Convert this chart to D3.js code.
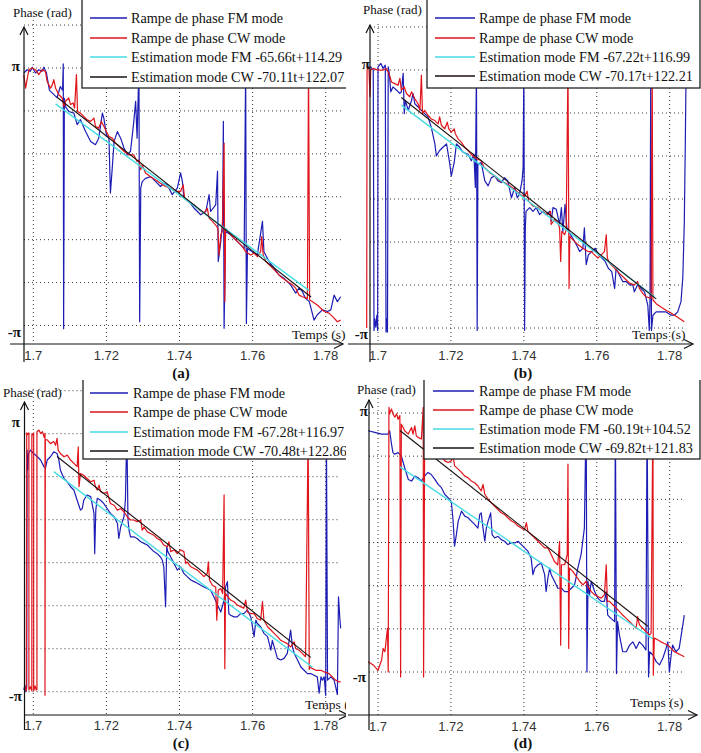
<!DOCTYPE html>
<html><head><meta charset="utf-8">
<script src="https://cdn.jsdelivr.net/npm/d3@7"></script>
<style>body{margin:0;background:#fff}svg{display:block}</style>
</head><body><svg id="chart" width="701" height="753"></svg>
<script>
// ---------------- DATA ----------------
const xTicks = [1.70, 1.72, 1.74, 1.76, 1.78];
const xTickLabels = ["1.7", "1.72", "1.74", "1.76", "1.78"];
const yTickValues = [Math.PI, -Math.PI];
const yTickLabels = ["π", "-π"];
const panelNames = ["(a)", "(b)", "(c)", "(d)"];
const seriesNames = ["Rampe de phase FM mode", "Rampe de phase CW mode"];
const estFM = [[-65.66, 114.29], [-67.22, 116.99], [-67.28, 116.97], [-60.19, 104.52]];
const estCW = [[-70.11, 122.07], [-70.17, 122.21], [-70.48, 122.86], [-69.82, 121.83]];
const estFMRange = [[1.7061, 1.7755], [1.7064, 1.7758], [1.7056, 1.7764], [1.7060, 1.7753]];
const estCWRange = [[1.7065, 1.7760], [1.7064, 1.7763], [1.7065, 1.7759], [1.7060, 1.7740]];

// (a)
const fmA = [[1.6974,3.02],[1.6983,3.10],[1.6992,3.06],[1.6997,3.16],[1.7006,3.02],[1.7015,3.10],[1.7024,3.06],[1.7029,3.16],[1.7036,3.02],[1.7044,2.60],[1.7052,2.53],[1.7065,2.42],[1.7074,2.69],[1.7080,2.60],[1.7082,3.24],[1.7083,-3.22],[1.7085,2.40],[1.7088,2.20],[1.7097,2.08],[1.7111,2.04],[1.7120,1.76],[1.7129,1.88],[1.7143,1.59],[1.7157,1.35],[1.7170,1.27],[1.7179,1.43],[1.7189,2.04],[1.7193,1.92],[1.7200,1.51],[1.7207,1.43],[1.7211,0.09],[1.7216,0.70],[1.7221,1.35],[1.7230,1.59],[1.7239,1.43],[1.7248,1.19],[1.7257,1.02],[1.7266,1.11],[1.7275,1.84],[1.7280,2.33],[1.7284,1.43],[1.7289,3.2],[1.7291,-3.05],[1.7294,0.21],[1.7298,0.37],[1.7307,0.45],[1.7321,0.49],[1.7335,0.37],[1.7348,0.25],[1.7357,0.33],[1.7367,0.29],[1.7380,0.05],[1.7394,0.21],[1.7403,0.58],[1.7408,0.37],[1.7412,-0.03],[1.7426,-0.12],[1.7440,-0.28],[1.7458,-0.44],[1.7472,-0.36],[1.7481,0.05],[1.7485,-0.36],[1.7499,-0.20],[1.7504,0.62],[1.7506,-1.58],[1.7513,-1.09],[1.7518,-0.60],[1.7520,1.84],[1.7522,-3.21],[1.7526,-0.85],[1.7540,-0.93],[1.7558,-1.09],[1.7577,-1.26],[1.7581,3.2],[1.7583,-3.09],[1.7586,-1.26],[1.7599,-1.34],[1.7613,-1.42],[1.7627,-0.60],[1.7631,-1.34],[1.7645,-1.58],[1.7659,-1.74],[1.7672,-1.91],[1.7686,-1.99],[1.7704,-2.15],[1.7718,-2.35],[1.7727,-2.23],[1.7736,-2.31],[1.7745,-2.48],[1.7755,-2.56],[1.7761,-2.76],[1.7768,-3.01],[1.7777,-2.88],[1.7791,-2.76],[1.7805,-2.80],[1.7814,-2.76],[1.7823,-2.40],[1.7832,-2.56],[1.7841,-2.44]];
const cwA = [[1.6974,2.98],[1.6979,2.65],[1.6983,2.86],[1.6988,3.10],[1.6997,3.14],[1.7006,3.10],[1.7015,2.98],[1.7024,3.10],[1.7033,3.06],[1.7038,2.81],[1.7047,2.65],[1.7052,2.73],[1.7056,2.86],[1.7061,2.65],[1.7070,2.49],[1.7079,2.41],[1.7084,2.20],[1.7088,2.33],[1.7097,2.41],[1.7102,2.25],[1.7109,2.29],[1.7113,2.16],[1.7118,2.98],[1.7121,2.08],[1.7129,2.04],[1.7138,1.96],[1.7147,1.88],[1.7157,1.84],[1.7166,1.92],[1.7170,1.72],[1.7179,1.67],[1.7186,1.84],[1.7193,1.72],[1.7200,1.59],[1.7207,1.47],[1.7216,1.43],[1.7225,1.31],[1.7234,1.23],[1.7248,1.11],[1.7262,1.02],[1.7275,1.02],[1.7284,0.86],[1.7289,0.90],[1.7294,0.66],[1.7298,0.78],[1.7307,0.58],[1.7321,0.49],[1.7335,0.41],[1.7348,0.33],[1.7362,0.25],[1.7376,0.21],[1.7389,0.13],[1.7403,0.13],[1.7410,0.29],[1.7414,-0.03],[1.7426,-0.12],[1.7440,-0.20],[1.7453,-0.32],[1.7467,-0.40],[1.7476,-0.28],[1.7481,-0.52],[1.7490,-0.60],[1.7499,-0.69],[1.7505,-0.77],[1.7508,-1.42],[1.7513,-0.93],[1.7517,-0.85],[1.7522,1.31],[1.7524,-2.56],[1.7526,-0.77],[1.7533,-0.85],[1.7545,-0.97],[1.7558,-1.09],[1.7572,-1.21],[1.7581,-1.34],[1.7595,-1.42],[1.7604,-1.38],[1.7613,-1.46],[1.7622,-1.34],[1.7625,-0.97],[1.7629,-1.42],[1.7636,-1.58],[1.7650,-1.70],[1.7663,-1.82],[1.7677,-1.95],[1.7695,-2.07],[1.7709,-2.15],[1.7718,-2.23],[1.7727,-2.40],[1.7736,-2.44],[1.7750,-2.48],[1.7753,3.3],[1.7756,-2.52],[1.7764,-2.56],[1.7777,-2.64],[1.7796,-2.80],[1.7809,-2.84],[1.7823,-2.96],[1.7832,-3.05],[1.7841,-3.01]];

// (b)
const fmB = [[1.6973,3.18],[1.6980,3.22],[1.6987,3.14],[1.6989,-3.20],[1.6991,-2.91],[1.6994,-3.12],[1.6997,-2.83],[1.6999,-3.20],[1.7000,3.22],[1.7008,3.30],[1.7014,3.18],[1.7020,3.26],[1.7022,-3.24],[1.7024,-2.91],[1.7026,-3.24],[1.7028,3.22],[1.7031,3.06],[1.7035,2.61],[1.7041,2.73],[1.7051,2.65],[1.7060,2.57],[1.7064,2.61],[1.7069,3.06],[1.7072,2.08],[1.7075,2.40],[1.7083,2.16],[1.7092,2.40],[1.7096,2.57],[1.7101,2.32],[1.7110,2.24],[1.7119,2.16],[1.7128,2.08],[1.7137,2.00],[1.7146,1.75],[1.7156,1.34],[1.7160,1.05],[1.7169,1.18],[1.7178,1.26],[1.7188,1.34],[1.7197,0.85],[1.7201,0.56],[1.7209,0.89],[1.7215,1.34],[1.7224,1.26],[1.7233,1.14],[1.7247,1.09],[1.7256,0.93],[1.7263,1.09],[1.7267,0.28],[1.7270,3.2],[1.7272,-3.20],[1.7274,0.85],[1.7283,0.89],[1.7293,0.44],[1.7302,0.32],[1.7311,0.52],[1.7320,0.56],[1.7329,0.44],[1.7338,0.40],[1.7347,0.52],[1.7356,0.44],[1.7366,0.03],[1.7375,0.28],[1.7382,0.03],[1.7388,0.11],[1.7395,0.44],[1.7398,0.77],[1.7400,3.2],[1.7402,-3.20],[1.7404,-0.70],[1.7406,-0.30],[1.7416,-0.21],[1.7425,-0.30],[1.7434,-0.21],[1.7443,-0.38],[1.7452,-0.30],[1.7461,-0.38],[1.7471,-0.30],[1.7475,-0.54],[1.7480,-0.21],[1.7489,-0.25],[1.7498,-0.62],[1.7503,-0.21],[1.7507,-0.79],[1.7513,-0.13],[1.7518,-0.70],[1.7525,-0.83],[1.7534,-0.95],[1.7544,-1.11],[1.7553,-1.28],[1.7562,-1.20],[1.7566,-0.70],[1.7571,-1.60],[1.7577,-1.36],[1.7586,-1.28],[1.7596,-1.20],[1.7605,-1.36],[1.7614,-1.44],[1.7623,-1.52],[1.7632,-1.69],[1.7641,-1.77],[1.7649,-2.18],[1.7653,-1.69],[1.7662,-1.85],[1.7671,-2.01],[1.7681,-2.01],[1.7690,-2.09],[1.7699,-2.09],[1.7703,-2.26],[1.7712,-2.09],[1.7722,-2.18],[1.7731,-2.26],[1.7740,-2.59],[1.7744,-3.20],[1.7746,-2.50],[1.7748,3.2],[1.7750,-3.20],[1.7754,-2.83],[1.7763,-2.75],[1.7776,-2.75],[1.7790,-2.75],[1.7804,-2.83],[1.7813,-2.83],[1.7822,-2.75],[1.7831,-2.50],[1.7836,-1.90],[1.7840,-0.60],[1.7843,1.50],[1.7845,3.2]];
const cwB = [[1.6969,-3.14],[1.6970,3.14],[1.6975,3.22],[1.6978,2.49],[1.6980,3.14],[1.6987,3.18],[1.7000,3.14],[1.7014,3.14],[1.7023,3.18],[1.7030,3.06],[1.7037,2.85],[1.7046,2.81],[1.7055,2.77],[1.7060,2.94],[1.7064,2.65],[1.7072,2.73],[1.7078,2.57],[1.7087,2.49],[1.7092,2.61],[1.7101,2.44],[1.7110,2.32],[1.7115,2.16],[1.7119,3.02],[1.7122,2.08],[1.7128,2.16],[1.7137,2.04],[1.7146,1.95],[1.7156,1.91],[1.7165,1.83],[1.7169,2.00],[1.7174,1.79],[1.7183,1.71],[1.7190,1.87],[1.7194,1.71],[1.7201,1.63],[1.7209,1.71],[1.7212,1.59],[1.7220,1.46],[1.7229,1.38],[1.7238,1.26],[1.7247,1.18],[1.7256,1.09],[1.7265,1.01],[1.7274,0.97],[1.7283,0.93],[1.7291,0.77],[1.7297,0.73],[1.7306,0.64],[1.7320,0.56],[1.7334,0.44],[1.7347,0.40],[1.7361,0.32],[1.7375,0.24],[1.7388,0.11],[1.7402,0.07],[1.7409,0.19],[1.7413,-0.05],[1.7425,-0.17],[1.7439,-0.21],[1.7448,-0.30],[1.7457,-0.34],[1.7466,-0.38],[1.7473,-0.30],[1.7475,-0.62],[1.7484,-0.50],[1.7493,-0.58],[1.7498,-0.70],[1.7501,-1.52],[1.7504,-0.79],[1.7512,-0.87],[1.7516,-0.75],[1.7521,3.2],[1.7524,-2.18],[1.7526,-0.91],[1.7534,-0.99],[1.7548,-1.11],[1.7562,-1.20],[1.7576,-1.28],[1.7585,-1.28],[1.7594,-1.36],[1.7603,-1.44],[1.7612,-1.36],[1.7621,-1.28],[1.7626,-0.87],[1.7629,-1.44],[1.7635,-1.56],[1.7649,-1.69],[1.7662,-1.81],[1.7676,-1.93],[1.7690,-2.05],[1.7703,-2.09],[1.7712,-2.01],[1.7717,-2.18],[1.7726,-2.30],[1.7735,-2.38],[1.7749,-2.42],[1.7752,3.2],[1.7754,-2.46],[1.7763,-2.55],[1.7776,-2.63],[1.7790,-2.71],[1.7799,-2.75],[1.7813,-2.83],[1.7827,-2.91],[1.7840,-2.99]];

// (c)
const fmC = [[1.6974,-3.10],[1.6977,-2.98],[1.6980,-3.14],[1.6982,-3.05],[1.6983,2.74],[1.6985,2.26],[1.6987,2.66],[1.6992,2.74],[1.7001,2.66],[1.7011,2.58],[1.7020,2.50],[1.7029,2.34],[1.7033,2.30],[1.7038,2.50],[1.7047,2.58],[1.7056,2.70],[1.7065,2.66],[1.7070,2.50],[1.7074,2.26],[1.7084,2.05],[1.7093,1.97],[1.7102,1.85],[1.7111,1.77],[1.7120,1.52],[1.7129,1.28],[1.7134,1.32],[1.7138,1.52],[1.7147,1.65],[1.7157,1.61],[1.7166,1.20],[1.7168,0.22],[1.7171,1.28],[1.7175,1.57],[1.7184,1.52],[1.7193,1.44],[1.7202,1.32],[1.7211,1.20],[1.7221,1.12],[1.7230,0.96],[1.7234,0.59],[1.7239,0.87],[1.7248,1.12],[1.7252,1.52],[1.7256,3.2],[1.7259,1.04],[1.7262,0.79],[1.7266,0.63],[1.7275,0.63],[1.7284,0.59],[1.7294,0.51],[1.7303,0.47],[1.7312,0.43],[1.7321,0.35],[1.7330,0.27],[1.7339,0.22],[1.7348,0.14],[1.7353,0.06],[1.7357,-0.10],[1.7362,-1.07],[1.7365,0.39],[1.7368,0.27],[1.7376,0.14],[1.7385,-0.02],[1.7394,-0.18],[1.7403,-0.10],[1.7412,-0.26],[1.7421,-0.34],[1.7431,-0.42],[1.7440,-0.46],[1.7449,-0.50],[1.7458,-0.55],[1.7467,-0.59],[1.7476,-0.63],[1.7485,-0.67],[1.7494,-0.83],[1.7504,-1.03],[1.7513,-1.20],[1.7522,-0.91],[1.7526,-0.59],[1.7531,-0.46],[1.7535,-1.24],[1.7540,-1.28],[1.7549,-1.32],[1.7558,-1.32],[1.7567,-1.24],[1.7576,-1.24],[1.7586,-1.15],[1.7595,-1.32],[1.7604,-1.80],[1.7609,-1.40],[1.7613,-1.48],[1.7622,-1.56],[1.7631,-1.72],[1.7641,-1.80],[1.7650,-2.13],[1.7654,-1.89],[1.7659,-2.05],[1.7668,-2.33],[1.7677,-2.37],[1.7686,-2.33],[1.7695,-2.21],[1.7704,-1.64],[1.7709,-2.05],[1.7714,-2.21],[1.7723,-2.37],[1.7732,-2.54],[1.7741,-2.62],[1.7750,-2.70],[1.7759,-2.70],[1.7768,-2.74],[1.7777,-2.78],[1.7782,-3.18],[1.7787,-2.78],[1.7791,-2.86],[1.7796,-2.78],[1.7800,-3.23],[1.7802,3.2],[1.7805,-2.86],[1.7814,-2.78],[1.7823,-2.86],[1.7832,-3.21],[1.7835,-0.83],[1.7839,-1.40],[1.7841,-1.60]];
const cwC = [[1.6976,-3.02],[1.6981,-3.12],[1.6982,3.16],[1.6985,3.12],[1.6988,3.16],[1.6988,-3.10],[1.6992,-3.02],[1.6996,-3.12],[1.6996,3.14],[1.7000,3.10],[1.7001,3.16],[1.7001,-3.12],[1.7005,-3.00],[1.7008,-3.10],[1.7010,-3.08],[1.7010,3.19],[1.7015,3.23],[1.7020,3.15],[1.7025,3.19],[1.7030,3.05],[1.7032,3.15],[1.7032,-3.23],[1.7033,3.00],[1.7038,2.99],[1.7047,2.90],[1.7056,2.95],[1.7061,2.86],[1.7065,3.03],[1.7068,2.74],[1.7074,2.66],[1.7084,2.58],[1.7093,2.62],[1.7102,2.50],[1.7111,2.42],[1.7120,2.34],[1.7123,2.82],[1.7125,1.85],[1.7129,2.17],[1.7138,2.13],[1.7147,2.05],[1.7157,1.97],[1.7166,2.01],[1.7170,1.85],[1.7175,1.77],[1.7180,1.89],[1.7184,1.73],[1.7193,1.69],[1.7202,1.73],[1.7207,1.57],[1.7211,1.44],[1.7221,1.40],[1.7230,1.28],[1.7239,1.32],[1.7248,1.24],[1.7257,1.12],[1.7266,1.04],[1.7275,1.04],[1.7284,1.00],[1.7294,1.04],[1.7298,0.79],[1.7303,0.87],[1.7312,0.75],[1.7321,0.71],[1.7330,0.67],[1.7339,0.59],[1.7348,0.55],[1.7357,0.43],[1.7367,0.39],[1.7371,0.51],[1.7376,0.27],[1.7385,0.31],[1.7394,0.22],[1.7403,0.31],[1.7412,0.27],[1.7417,-0.02],[1.7421,0.02],[1.7431,-0.10],[1.7440,-0.14],[1.7449,-0.18],[1.7458,-0.26],[1.7467,-0.34],[1.7476,-0.26],[1.7479,0.02],[1.7482,-0.42],[1.7490,-0.55],[1.7499,-0.59],[1.7502,-1.40],[1.7506,-0.67],[1.7513,-0.63],[1.7518,-0.75],[1.7522,1.65],[1.7524,-2.58],[1.7526,-0.75],[1.7533,-0.83],[1.7540,-0.91],[1.7549,-0.95],[1.7558,-1.03],[1.7567,-1.07],[1.7576,-1.11],[1.7581,-0.91],[1.7586,-1.20],[1.7595,-1.24],[1.7604,-1.24],[1.7613,-1.36],[1.7622,-1.40],[1.7627,-0.95],[1.7631,-1.40],[1.7641,-1.56],[1.7650,-1.64],[1.7659,-1.72],[1.7668,-1.80],[1.7677,-1.89],[1.7686,-1.93],[1.7695,-1.97],[1.7704,-2.05],[1.7714,-1.93],[1.7718,-2.09],[1.7727,-2.13],[1.7736,-2.21],[1.7745,-2.29],[1.7752,3.2],[1.7755,-2.60],[1.7757,-2.54],[1.7764,-2.58],[1.7773,-2.62],[1.7787,-2.62],[1.7796,-2.66],[1.7809,-2.70],[1.7818,-2.78],[1.7827,-2.86],[1.7836,-2.90],[1.7841,-2.90]];

// (d)
const fmD = [[1.6973,2.71],[1.6991,2.67],[1.7010,2.63],[1.7028,2.63],[1.7032,2.71],[1.7037,2.39],[1.7041,2.18],[1.7046,2.14],[1.7055,2.18],[1.7064,2.10],[1.7073,1.82],[1.7083,1.53],[1.7092,1.49],[1.7101,1.61],[1.7110,1.57],[1.7119,1.49],[1.7128,1.61],[1.7137,1.70],[1.7146,1.65],[1.7156,1.53],[1.7165,1.41],[1.7174,1.33],[1.7183,1.17],[1.7192,1.09],[1.7201,1.00],[1.7206,0.52],[1.7210,-0.09],[1.7215,0.19],[1.7220,0.52],[1.7229,0.76],[1.7238,0.64],[1.7247,0.60],[1.7256,0.52],[1.7265,0.44],[1.7274,0.35],[1.7279,0.68],[1.7283,0.72],[1.7288,0.35],[1.7293,0.03],[1.7297,0.35],[1.7302,0.52],[1.7309,0.72],[1.7313,0.19],[1.7320,0.11],[1.7329,0.15],[1.7338,0.07],[1.7347,0.03],[1.7356,-0.05],[1.7366,-0.01],[1.7375,-0.01],[1.7384,0.03],[1.7393,-0.05],[1.7402,-0.13],[1.7411,-0.21],[1.7420,-0.38],[1.7425,-0.78],[1.7430,-0.62],[1.7439,-0.54],[1.7448,-0.50],[1.7457,-0.78],[1.7461,-1.19],[1.7466,-0.86],[1.7471,-0.62],[1.7475,-0.78],[1.7484,-0.94],[1.7493,-1.11],[1.7503,-1.11],[1.7512,-1.19],[1.7521,-1.19],[1.7530,-1.11],[1.7539,-1.03],[1.7544,-0.82],[1.7548,-0.62],[1.7557,-0.29],[1.7566,0.35],[1.7571,3.2],[1.7573,-3.14],[1.7576,-0.94],[1.7580,-1.27],[1.7585,-0.94],[1.7594,-1.19],[1.7603,-1.35],[1.7612,-1.43],[1.7621,-1.43],[1.7626,-1.19],[1.7630,-1.76],[1.7639,-1.84],[1.7649,-1.92],[1.7651,3.2],[1.7654,-3.18],[1.7657,-1.92],[1.7662,-2.24],[1.7671,-2.65],[1.7681,-2.65],[1.7690,-2.49],[1.7699,-2.41],[1.7708,-2.57],[1.7717,-2.41],[1.7726,-2.49],[1.7735,-2.61],[1.7738,3.2],[1.7742,-3.26],[1.7745,-2.65],[1.7754,-2.73],[1.7763,-2.89],[1.7772,-2.97],[1.7781,-2.81],[1.7790,-2.57],[1.7795,-2.41],[1.7799,-3.14],[1.7804,-2.73],[1.7808,-2.49],[1.7817,-2.65],[1.7826,-2.57],[1.7836,-2.00],[1.7840,-1.76]];
const cwD = [[1.6973,-2.89],[1.6987,-2.97],[1.7000,-3.10],[1.7010,-2.85],[1.7014,-2.57],[1.7019,-2.65],[1.7023,-2.32],[1.7026,-2.08],[1.7028,-3.14],[1.7030,3.28],[1.7032,3.12],[1.7037,3.24],[1.7041,3.12],[1.7046,3.04],[1.7051,3.12],[1.7055,2.99],[1.7060,3.08],[1.7062,-3.26],[1.7064,2.87],[1.7069,2.79],[1.7073,2.71],[1.7083,2.63],[1.7092,2.79],[1.7096,2.63],[1.7101,2.83],[1.7105,2.59],[1.7110,2.55],[1.7119,2.51],[1.7124,3.28],[1.7125,-3.26],[1.7128,2.47],[1.7137,2.39],[1.7146,2.26],[1.7156,2.18],[1.7165,2.14],[1.7174,2.10],[1.7183,1.98],[1.7192,1.94],[1.7201,1.98],[1.7206,2.10],[1.7210,1.86],[1.7220,1.78],[1.7229,1.70],[1.7238,1.61],[1.7247,1.57],[1.7256,1.49],[1.7265,1.45],[1.7274,1.37],[1.7283,1.25],[1.7288,1.41],[1.7293,1.17],[1.7302,1.05],[1.7311,0.96],[1.7320,0.88],[1.7329,0.80],[1.7338,0.72],[1.7347,0.68],[1.7356,0.60],[1.7366,0.52],[1.7375,0.48],[1.7384,0.40],[1.7393,0.35],[1.7402,0.31],[1.7407,0.48],[1.7411,0.27],[1.7420,0.19],[1.7430,0.11],[1.7439,0.03],[1.7448,-0.05],[1.7457,-0.13],[1.7466,-0.13],[1.7475,-0.29],[1.7484,-0.46],[1.7493,-0.54],[1.7498,0.03],[1.7501,-2.49],[1.7503,-0.54],[1.7512,-0.54],[1.7519,-0.29],[1.7521,1.90],[1.7523,-2.57],[1.7525,-0.62],[1.7534,-0.70],[1.7544,-0.82],[1.7553,-0.94],[1.7562,-1.03],[1.7571,-0.94],[1.7576,-1.07],[1.7585,-1.19],[1.7594,-1.27],[1.7603,-1.31],[1.7612,-1.35],[1.7621,-1.27],[1.7626,-0.54],[1.7629,-1.43],[1.7635,-1.43],[1.7644,-1.51],[1.7653,-1.59],[1.7662,-1.67],[1.7671,-1.76],[1.7681,-1.84],[1.7690,-1.92],[1.7699,-2.00],[1.7708,-2.08],[1.7712,-1.80],[1.7717,-2.00],[1.7726,-2.08],[1.7735,-2.16],[1.7745,-2.24],[1.7749,-2.20],[1.7754,3.2],[1.7755,-3.22],[1.7758,-2.32],[1.7767,-2.36],[1.7776,-2.41],[1.7785,-2.45],[1.7795,-2.49],[1.7804,-2.57],[1.7813,-2.65],[1.7822,-2.69],[1.7831,-2.73],[1.7840,-2.77]];

const fmSeries = [fmA, fmB, fmC, fmD];
const cwSeries = [cwA, cwB, cwC, cwD];

// ---------------- LAYOUT ----------------
const layouts = [
  {clip:[0,0,346,380], x170:33.3, x178:325.7, yPi:68, yNegPi:325.5, axisX:24, axisY:344, gridTop:20, gridRight:341,
   xAxisStart:10, xAxisEnd:343, yAxisBottom:362, yAxisTop:27,
   legend:{x:82, y:-2, w:280, h:90, rows:[18,38,57,77], l1:90, l2:127, tx:131},
   phase:[13,17], temps:[292,339], piLab:[[20,71],[21,337]], tickY:360, sub:[181,378]},
  {clip:[348,0,353,380], x170:378, x178:669.7, yPi:70, yNegPi:328, axisX:370, axisY:344, gridTop:24, gridRight:684,
   xAxisStart:348, xAxisEnd:693, yAxisBottom:362, yAxisTop:25,
   legend:{x:427, y:-2, w:273, h:90, rows:[18,38,57,76], l1:435, l2:475, tx:479},
   phase:[363,14], temps:[632,339], piLab:[[370,69],[368,339]], tickY:360, sub:[523,378]},
  {clip:[0,380,346,373], x170:33.3, x178:325.7, yPi:433.7, yNegPi:691.7, axisX:24.5, axisY:715, gridTop:389, gridRight:340,
   xAxisStart:24, xAxisEnd:348, yAxisBottom:730, yAxisTop:402,
   legend:{x:83, y:376, w:280, h:83, rows:[393,412,432,451], l1:90, l2:128, tx:133},
   phase:[3,397], temps:[305,709], piLab:[[20,427],[22,701]], tickY:730, sub:[181,748]},
  {clip:[348,380,353,373], x170:378, x178:669.7, yPi:413, yNegPi:672, axisX:369, axisY:715, gridTop:398, gridRight:685,
   xAxisStart:348, xAxisEnd:697, yAxisBottom:730, yAxisTop:400,
   legend:{x:424, y:376, w:276, h:83, rows:[391,410,429,448], l1:433, l2:474, tx:479},
   phase:[357,394], temps:[630,707], piLab:[[368,416],[366,682]], tickY:731, sub:[523,748]}
];

const COL = {fm:"#1d1db5", cw:"#e0141a", efm:"#45dce3", ecw:"#1a1010", grid:"#3a3a3a"};
const serif = "'Liberation Serif','Times New Roman',serif";
const sans = "'Liberation Sans',Arial,sans-serif";

const svg = d3.select("#chart");
const defs = svg.append("defs");

layouts.forEach((L, i) => {
  defs.append("clipPath").attr("id", "pc" + i).append("rect")
    .attr("x", L.clip[0]).attr("y", L.clip[1]).attr("width", L.clip[2]).attr("height", L.clip[3]);
  defs.append("clipPath").attr("id", "pl" + i).append("rect")
    .attr("x", L.clip[0]).attr("y", L.gridTop - 40).attr("width", L.clip[2]).attr("height", L.axisY - L.gridTop + 40);

  const g = svg.append("g").attr("clip-path", `url(#pc${i})`);
  const x = d3.scaleLinear().domain([1.70, 1.78]).range([L.x170, L.x178]);
  const y = d3.scaleLinear().domain([Math.PI, -Math.PI]).range([L.yPi, L.yNegPi]);

  // grid
  const grid = g.append("g").attr("stroke", COL.grid).attr("stroke-width", 1).attr("stroke-dasharray", "1,3");
  xTicks.forEach(t => grid.append("line").attr("x1", x(t)).attr("x2", x(t)).attr("y1", L.gridTop).attr("y2", L.axisY));
  d3.range(-3, 5).forEach(k => {
    const yy = y(k * Math.PI / 3);
    if (yy >= L.gridTop - 3 && yy < L.axisY - 3)
      grid.append("line").attr("x1", L.axisX).attr("x2", L.gridRight).attr("y1", yy).attr("y2", yy);
  });

  // traces
  const line = d3.line().x(d => x(d[0])).y(d => y(d[1]));
  const tr = g.append("g").attr("clip-path", `url(#pl${i})`).attr("fill", "none")
    .attr("stroke-linejoin", "round");
  tr.append("path").datum(fmSeries[i]).attr("d", line).attr("stroke", COL.fm).attr("stroke-width", 1.2);
  tr.append("path").datum(cwSeries[i]).attr("d", line).attr("stroke", COL.cw).attr("stroke-width", 1.2);
  const efm = estFMRange[i].map(t => [t, estFM[i][0] * t + estFM[i][1]]);
  const ecw = estCWRange[i].map(t => [t, estCW[i][0] * t + estCW[i][1]]);
  tr.append("path").datum(efm).attr("d", line).attr("stroke", COL.efm).attr("stroke-width", 1.4);
  tr.append("path").datum(ecw).attr("d", line).attr("stroke", COL.ecw).attr("stroke-width", 1.1);

  // legend
  const lg = L.legend;
  g.append("rect").attr("x", lg.x).attr("y", lg.y).attr("width", lg.w).attr("height", lg.h)
    .attr("fill", "#fff").attr("stroke", "#222").attr("stroke-width", 1.3);
  const labels = [seriesNames[0], seriesNames[1],
    `Estimation mode FM ${estFM[i][0].toFixed(2)}t+${estFM[i][1].toFixed(2)}`,
    `Estimation mode CW ${estCW[i][0].toFixed(2)}t+${estCW[i][1].toFixed(2)}`];
  const lcols = [COL.fm, COL.cw, COL.efm, COL.ecw];
  labels.forEach((s, j) => {
    g.append("line").attr("x1", lg.l1).attr("x2", lg.l2).attr("y1", lg.rows[j]).attr("y2", lg.rows[j])
      .attr("stroke", lcols[j]).attr("stroke-width", j === 2 ? 1.6 : 1.3);
    g.append("text").attr("x", lg.tx).attr("y", lg.rows[j] + 5).text(s)
      .attr("font-family", serif).attr("font-size", 14.2).attr("fill", "#111");
  });

  // axes
  const ax = g.append("g").attr("stroke", "#111").attr("stroke-width", 1.2).attr("fill", "none");
  ax.append("line").attr("x1", L.xAxisStart).attr("x2", L.xAxisEnd).attr("y1", L.axisY).attr("y2", L.axisY);
  ax.append("path").attr("d", `M${L.xAxisEnd - 9},${L.axisY - 4.5}L${L.xAxisEnd},${L.axisY}L${L.xAxisEnd - 9},${L.axisY + 4.5}`);
  ax.append("line").attr("x1", L.axisX).attr("x2", L.axisX).attr("y1", L.yAxisBottom).attr("y2", L.yAxisTop);
  ax.append("path").attr("d", `M${L.axisX - 4},${L.yAxisTop + 8}L${L.axisX},${L.yAxisTop}L${L.axisX + 4},${L.yAxisTop + 8}`);

  // tick labels
  xTicks.forEach((t, j) => g.append("text").attr("x", x(t)).attr("y", L.tickY).attr("text-anchor", "middle")
    .attr("font-family", sans).attr("font-size", 13).attr("fill", "#333").text(xTickLabels[j]));
  yTickLabels.forEach((s, j) => g.append("text").attr("x", L.piLab[j][0]).attr("y", L.piLab[j][1])
    .attr("text-anchor", "end").attr("font-family", serif).attr("font-size", 15).attr("font-weight", "bold")
    .attr("fill", "#111").text(s));

  // axis titles
  g.append("text").attr("x", L.phase[0]).attr("y", L.phase[1]).text("Phase (rad)")
    .attr("font-family", serif).attr("font-size", 13).attr("fill", "#111");
  g.append("text").attr("x", L.temps[0]).attr("y", L.temps[1]).text("Temps (s)")
    .attr("font-family", serif).attr("font-size", 13.5).attr("fill", "#111");
});

// panel captions drawn last so nothing covers them
layouts.forEach((L, i) => {
  svg.append("text").attr("x", L.sub[0]).attr("y", L.sub[1]).attr("text-anchor", "middle").text(panelNames[i])
    .attr("font-family", serif).attr("font-size", 15).attr("font-weight", "bold").attr("fill", "#111");
});
</script>
</body></html>
